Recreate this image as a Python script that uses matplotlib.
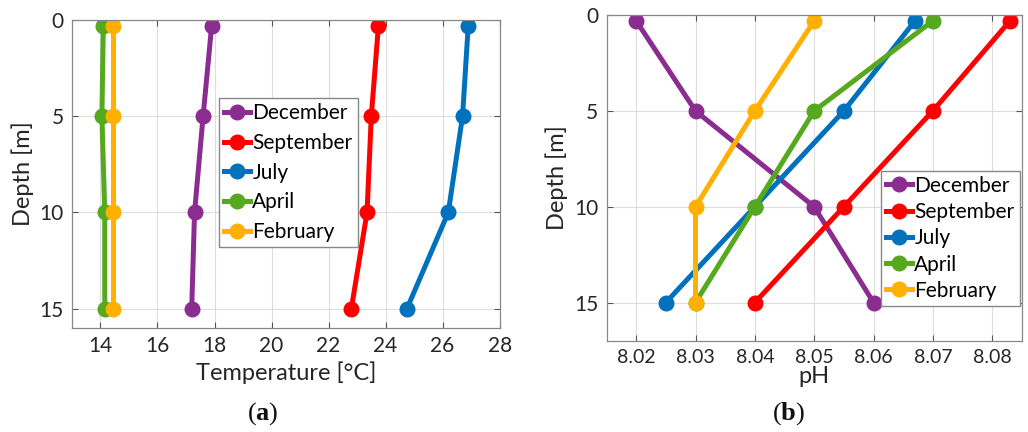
import matplotlib
matplotlib.use('Agg')
from matplotlib import pyplot as plt

plt.rcParams['font.family'] = ['Lato', 'DejaVu Sans']
plt.rcParams['mathtext.fontset'] = 'custom'
plt.rcParams['mathtext.rm'] = 'Liberation Serif'
plt.rcParams['mathtext.bf'] = 'Liberation Serif:bold'

# datos
profundidad = [0.3, 5, 10, 15]
meses = ['December', 'September', 'July', 'April', 'February']
colores = ['#8B2C91', '#FF0000', '#0072BD', '#56A81E', '#FFB000']

temp_dic = [17.9, 17.6, 17.3, 17.2]
temp_sep = [23.75, 23.5, 23.35, 22.8]
temp_jul = [26.9, 26.7, 26.2, 24.75]
temp_abr = [14.1, 14.05, 14.15, 14.15]
temp_feb = [14.45, 14.45, 14.45, 14.45]

ph_dic = [8.02, 8.03, 8.05, 8.06]
ph_sep = [8.083, 8.07, 8.055, 8.04]
ph_jul = [8.067, 8.055, 8.04, 8.025]
ph_abr = [8.07, 8.05, 8.04, 8.03]
ph_feb = [8.05, 8.04, 8.03, 8.03]

temps = [temp_dic, temp_sep, temp_jul, temp_abr, temp_feb]
phs = [ph_dic, ph_sep, ph_jul, ph_abr, ph_feb]

fig = plt.figure(figsize=(10.28, 4.32), dpi=100)
ax1 = fig.add_axes([0.070, 0.241, 0.416, 0.713])
ax2 = fig.add_axes([0.590, 0.211, 0.404, 0.754])

fs = 15
txt = '#262626'
leg_kw = dict(fontsize=15, handlelength=1.25, handletextpad=0.12, borderpad=0.25,
              fancybox=False, framealpha=1, borderaxespad=0)

for ax, datos in [(ax1, temps), (ax2, phs)]:
    for serie, mes, c in zip(datos, meses, colores):
        ax.plot(serie, profundidad, '-o', color=c, lw=3.6, ms=10.5, label=mes)
    ax.grid(True, color='#DDDDDD', lw=0.8)
    ax.set_axisbelow(True)
    ax.tick_params(direction='in', top=True, right=True, labelsize=fs, length=4,
                   color='#555555', labelcolor=txt, pad=6)
    for s in ax.spines.values():
        s.set_color('#888888')
        s.set_linewidth(0.9)
    ax.set_ylabel('Depth [m]', fontsize=fs + 2, color=txt, labelpad=4)
    ax.set_yticks([0, 5, 10, 15])

ax1.set_xlim(13, 28)
ax1.set_ylim(16, 0)
ax1.set_xticks([14, 16, 18, 20, 22, 24, 26, 28])
ax1.set_xlabel('Temperature [°C]', fontsize=fs + 2, color=txt, labelpad=4)
leg1 = ax1.legend(loc='upper left', bbox_to_anchor=(0.343, 0.747), labelspacing=0.47, **leg_kw)
leg1.get_frame().set_edgecolor('#888888')

ax2.set_xlim(8.015, 8.085)
ax2.set_ylim(17, 0)
ax2.set_xticks([8.02, 8.03, 8.04, 8.05, 8.06, 8.07, 8.08])
ax2.set_xticklabels(['8.02', '8.03', '8.04', '8.05', '8.06', '8.07', '8.08'])
ax2.tick_params(axis='x', labelsize=fs - 1)
ax2.set_xlabel('pH', fontsize=fs + 2, color=txt, labelpad=0)
leg2 = ax2.legend(loc='lower right', bbox_to_anchor=(0.995, 0.107), labelspacing=0.3, **leg_kw)
leg2.get_frame().set_edgecolor('#888888')

fig.text(263 / 1028, 1 - 414 / 432, r'$\mathrm{(}\mathbf{a}\mathrm{)}$', fontsize=19,
         ha='center', va='center', color='#111111')
fig.text(789 / 1028, 1 - 414 / 432, r'$\mathrm{(}\mathbf{b}\mathrm{)}$', fontsize=19,
         ha='center', va='center', color='#111111')

fig.savefig('out.png', dpi=100)
